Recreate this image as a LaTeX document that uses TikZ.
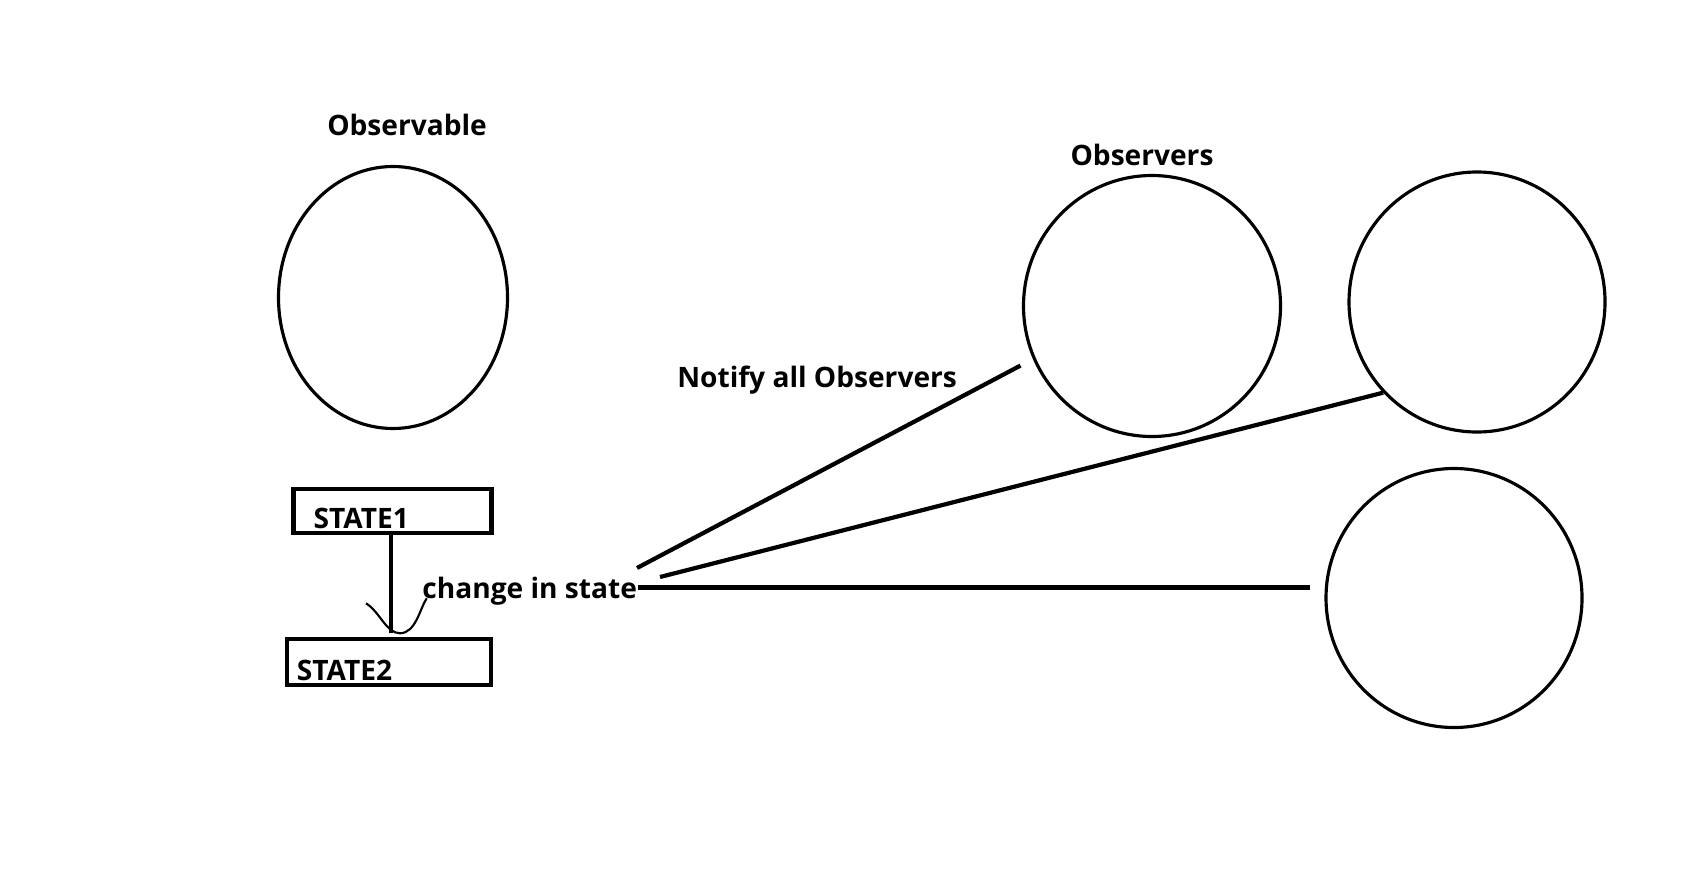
\documentclass[tikz,border=0pt]{standalone}
\usepackage{fontspec}
\setmainfont{Open Sans}
\usetikzlibrary{shapes.geometric}

\begin{document}
\begin{tikzpicture}[
	obs/.style={ellipse, draw, line width=0.9pt, inner sep=0pt},
	statebox/.style={rectangle, draw, very thick, inner sep=0pt},
	lbl/.style={font=\bfseries\fontsize{8}{9.6}\selectfont, inner sep=0pt},
	wire/.style={very thick}]
		\useasboundingbox (0, 0) rectangle (16.84, 8.68);
		
		\node[obs, minimum width=2.29cm, minimum height=2.62cm] (subj) at (3.93, 5.705) {};
		\node[lbl, anchor=base] (subjname) at (4.07, 7.325) {Observable};
		
		\node[obs, minimum width=2.57cm, minimum height=2.61cm] (obsA) at (11.52, 5.62) {};
		\node[obs, minimum width=2.56cm, minimum height=2.60cm] (obsB) at (14.77, 5.66) {};
		\node[obs, minimum width=2.56cm, minimum height=2.59cm] (obsC) at (14.54, 2.70) {};
		\node[lbl, anchor=base] (obsname) at (11.42, 7.026) {Observers};
		
		\node[statebox, minimum width=1.98cm, minimum height=0.44cm] (st1) at (3.925, 3.568) {};
		\node[statebox, minimum width=2.04cm, minimum height=0.46cm] (st2) at (3.892, 2.063) {};
		\node[lbl, anchor=base west] (st1name) at ([xshift=0.215cm, yshift=0.065cm]st1.south west) {STATE1};
		\node[lbl, anchor=base west] (st2name) at ([xshift=0.111cm, yshift=0.064cm]st2.south west) {STATE2};
		
		\coordinate (hook) at (3.91, 2.347);
		\draw[wire] (st1.south -| hook) -- (hook);
		\draw[line width=0.6pt] (3.66, 2.647) .. controls (3.8, 2.56) and (3.86, 2.35) .. (4.0, 2.347)
			.. controls (4.16, 2.35) and (4.2, 2.6) .. (4.267, 2.697);
		\node[lbl, anchor=base west] (chg) at (4.217, 2.697) {change in state};
		\node[lbl, anchor=base west] (notify) at (6.766, 4.803) {Notify all Observers};
		
		\coordinate (n1) at (6.37, 3.0);
		\coordinate (n2) at (6.60, 2.91);
		\draw[wire, shorten >=0.14cm] (n1) -- (obsA.204);
		\draw[wire] (n2) -- (obsB.224);
		\draw[wire, shorten >=0.14cm] ([yshift=0.035cm]chg.east) -- ([yshift=0.035cm]chg.east -| obsC.west);
\end{tikzpicture}
\end{document}
